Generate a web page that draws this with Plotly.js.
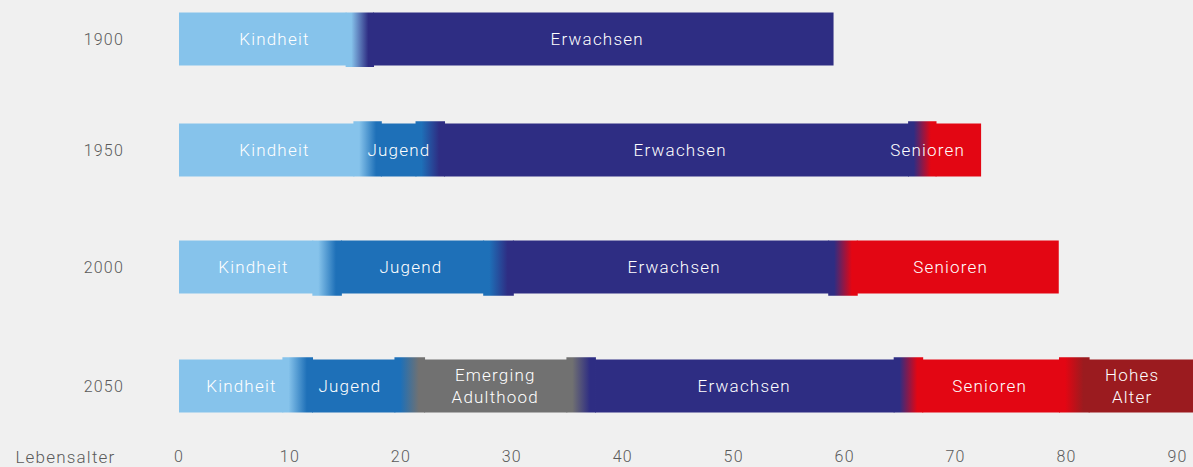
<!DOCTYPE html>
<html>
<head>
<meta charset="utf-8">
<script src="https://cdn.plot.ly/plotly-3.0.1.min.js"></script>
<style>
html,body{margin:0;padding:0;background:#f0f0f0;}
#chart{width:1193px;height:467px;}
#chart text{letter-spacing:1.2px;}
</style>
</head>
<body>
<div id="chart"></div>
<script>
// ---- data ----
const years = ['1900', '1950', '2000', '2050'];

const stages1900 = ['Kindheit', 'Erwachsen'];
const start1900  = [0, 17.5];
const end1900    = [15.1, 59.0];

const stages1950 = ['Kindheit', 'Jugend', 'Erwachsen', 'Senioren'];
const start1950  = [0, 18.2, 23.9, 68.2];
const end1950    = [15.8, 21.4, 65.8, 72.3];

const stages2000 = ['Kindheit', 'Jugend', 'Erwachsen', 'Senioren'];
const start2000  = [0, 14.6, 30.1, 61.1];
const end2000    = [12.1, 27.5, 58.6, 79.3];

const stages2050 = ['Kindheit', 'Jugend', 'Emerging<br>Adulthood', 'Erwachsen', 'Senioren', 'Hohes<br>Alter'];
const start2050  = [0, 12.0, 22.1, 37.5, 67.0, 82.0];
const end2050    = [9.4, 19.5, 35.0, 64.5, 79.4, 92.0];

const tickValues = [0, 10, 20, 30, 40, 50, 60, 70, 80, 90];
const axisLabel = 'Lebensalter';

// ---- styling ----
const stageColors = {
  'Kindheit': '#86c3eb',
  'Jugend': '#1e70b8',
  'Emerging<br>Adulthood': '#717171',
  'Erwachsen': '#2e2d83',
  'Senioren': '#e30613',
  'Hohes<br>Alter': '#9b1b1f'
};
// label centres (age units)
const labelPos = [
  [8.65, 37.7],
  [8.65, 19.8, 45.2, 67.5],
  [6.7, 20.9, 44.6, 69.5],
  [5.6, 15.4, 28.5, 50.9, 73.1, 85.9]
];
const rowPos = [0, 1, 2.054, 3.126];
const barW = 0.477;
const gradExt = [[0, 0.015], [0.02, 0], [0, 0.02], [0.02, 0]]; // [up, down]
const seamPad = 0.08;

const rows = [
  {stages: stages1900, start: start1900, end: end1900},
  {stages: stages1950, start: start1950, end: end1950},
  {stages: stages2000, start: start2000, end: end2000},
  {stages: stages2050, start: start2050, end: end2050}
];

const traces = [];
const annotations = [];
const FONT = 'Roboto, "Noto Sans", sans-serif';

rows.forEach((r, i) => {
  const y = rowPos[i];
  traces.push({
    type: 'bar', orientation: 'h',
    y: r.stages.map(() => y),
    base: r.start,
    x: r.start.map((s, k) => r.end[k] - s),
    width: barW,
    marker: {color: r.stages.map(s => stageColors[s]), line: {width: 0}},
    hoverinfo: 'skip', showlegend: false
  });
  for (let k = 0; k < r.stages.length - 1; k++) {
    const a = r.end[k], b = r.start[k + 1];
    const top = y - barW / 2 - gradExt[i][0];
    const bot = y + barW / 2 + gradExt[i][1];
    const c1 = stageColors[r.stages[k]], c2 = stageColors[r.stages[k + 1]];
    const xa = a - seamPad, xb = b + seamPad;
    traces.push({
      type: 'scatter', mode: 'lines',
      x: [xa, xb, xb, xa, xa], y: [top, top, bot, bot, top],
      fill: 'toself', line: {width: 0},
      fillgradient: {type: 'horizontal', start: xa, stop: xb,
        colorscale: [[0, c1], [0.2, c1], [0.8, c2], [1, c2]]},
      hoverinfo: 'skip', showlegend: false
    });
  }
  r.stages.forEach((s, k) => {
    annotations.push({
      x: labelPos[i][k], y: y, xref: 'x', yref: 'y',
      text: s, showarrow: false,
      font: {family: FONT, size: 17, color: '#ffffff', weight: 300},
      xanchor: 'center', yanchor: 'middle'
    });
  });
});

annotations.push({
  xref: 'paper', yref: 'paper', x: -0.0675, y: -0.027,
  xanchor: 'right', yanchor: 'middle', showarrow: false,
  text: axisLabel, font: {family: FONT, size: 17, color: '#5a5a5a', weight: 300}
});

const layout = {
  width: 1193, height: 467,
  margin: {l: 179, r: 0, t: 0, b: 22, pad: 0},
  paper_bgcolor: '#f0f0f0', plot_bgcolor: '#f0f0f0',
  showlegend: false,
  barmode: 'overlay',
  xaxis: {
    range: [0, 91.4], tickvals: tickValues, ticktext: tickValues.map(String),
    showgrid: false, zeroline: false, showline: false, ticks: '',
    tickfont: {family: FONT, size: 16, color: '#5a5a5a', weight: 300}, fixedrange: true
  },
  yaxis: {
    range: [3.658, -0.351], tickvals: rowPos, ticktext: years,
    showgrid: false, zeroline: false, showline: false, ticks: '',
    ticklabelstandoff: 54,
    tickfont: {family: FONT, size: 16, color: '#5a5a5a', weight: 300}, fixedrange: true
  },
  annotations: annotations
};

Plotly.newPlot('chart', traces, layout, {displayModeBar: false, staticPlot: true});
</script>
</body>
</html>
